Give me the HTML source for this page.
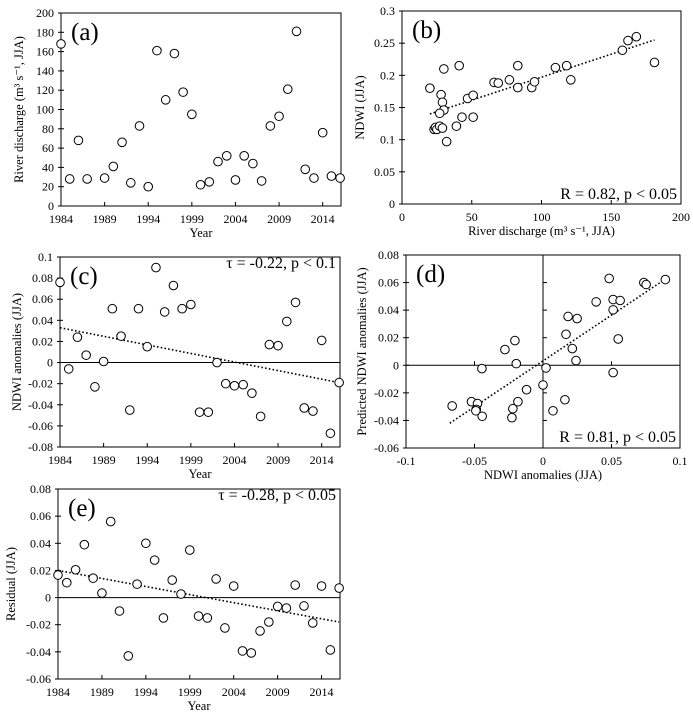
<!DOCTYPE html>
<html><head><meta charset="utf-8"><style>
html,body{margin:0;padding:0;background:#fff}
svg{display:block;font-family:"Liberation Serif","Times New Roman",serif}
</style></head><body>
<svg id="fig" width="693" height="718" viewBox="0 0 693 718" xmlns="http://www.w3.org/2000/svg"></svg>
<script>
// ---- data (a) ----
const yearsA=[1984,1985,1986,1987,1989,1990,1991,1992,1993,1994,1995,1996,1997,1998,1999,2000,2001,2002,2003,2004,2005,2006,2007,2008,2009,2010,2011,2012,2013,2014,2015,2016];
const dischargeA=[168,28,68,28,29,41,66,24,83,20,161,110,158,118,95,22,25,46,52,27,52,44,26,83,93,121,181,38,29,76,31,29];
// ---- data (b) ----
const dischargeB=[20,28,30,41,29,30,27,47,51,43,51,23,24,25,27,29,39,32,66,69,77,83,83,93,95,110,118,121,158,162,168,181];
const ndwiB=[0.18,0.17,0.21,0.215,0.158,0.146,0.141,0.164,0.169,0.135,0.135,0.116,0.119,0.116,0.121,0.118,0.121,0.097,0.189,0.188,0.193,0.215,0.181,0.181,0.19,0.212,0.215,0.193,0.239,0.254,0.26,0.22];
const trendBx=[20,181], trendBy=[0.14,0.255];
// ---- data (c) ----
const yearsC=[1984,1985,1986,1987,1988,1989,1990,1991,1992,1993,1994,1995,1996,1997,1998,1999,2000,2001,2002,2003,2004,2005,2006,2007,2008,2009,2010,2011,2012,2013,2014,2015,2016];
const anomC=[0.076,-0.006,0.024,0.007,-0.023,0.001,0.051,0.025,-0.045,0.051,0.015,0.090,0.048,0.073,0.051,0.055,-0.047,-0.047,0.000,-0.020,-0.022,-0.021,-0.029,-0.051,0.017,0.016,0.039,0.057,-0.043,-0.046,0.021,-0.067,-0.019];
const trendCx=[1984,2016], trendCy=[0.033,-0.019];
// ---- data (d) ----
const obsD=[-0.0663,-0.0522,-0.0478,-0.0487,-0.049,-0.0444,-0.0446,-0.0278,-0.0205,-0.0195,-0.0183,-0.022,-0.0227,-0.012,0,0.0022,0.0073,0.016,0.0168,0.0183,0.0214,0.0241,0.0249,0.0388,0.0483,0.0512,0.0512,0.0512,0.0563,0.0549,0.0736,0.0753,0.0893];
const predD=[-0.0295,-0.0264,-0.0278,-0.032,-0.033,-0.037,-0.0024,0.0114,0.0179,0.0012,-0.0264,-0.0315,-0.038,-0.0177,-0.0143,-0.0019,-0.033,-0.025,0.0225,0.0354,0.0121,0.0034,0.0339,0.046,0.063,0.0477,0.0402,-0.0053,0.047,0.0191,0.060,0.0586,0.0622];
const trendDx=[-0.068,0.09], trendDy=[-0.042,0.063];
// ---- data (e) ----
const yearsE=yearsC.slice();
const residE=[0.0166,0.011,0.0205,0.039,0.0143,0.0033,0.056,-0.0099,-0.043,0.0099,0.040,0.0276,-0.015,0.0129,0.0026,0.035,-0.0136,-0.015,0.0137,-0.0224,0.0085,-0.0393,-0.0408,-0.0246,-0.018,-0.0065,-0.0077,0.0092,-0.0062,-0.0187,0.0085,-0.0386,0.007];
const trendEx=[1984,2016], trendEy=[0.020,-0.018];
// ---- ticks ----
const yearTicks=[1984,1989,1994,1999,2004,2009,2014];
const ticksAy=[0,20,40,60,80,100,120,140,160,180,200];
const ticksBx=[0,50,100,150,200];
const ticksBy=[0,0.05,0.1,0.15,0.2,0.25,0.3];
const ticksCy=[-0.08,-0.06,-0.04,-0.02,0,0.02,0.04,0.06,0.08,0.1];
const ticksDx=[-0.1,-0.05,0,0.05,0.1];
const ticksDy=[-0.06,-0.04,-0.02,0,0.02,0.04,0.06,0.08];
const ticksEy=[-0.06,-0.04,-0.02,0,0.02,0.04,0.06,0.08];

const NS="http://www.w3.org/2000/svg";
const svg=document.getElementById('fig');
function mk(tag,attrs,parent){const e=document.createElementNS(NS,tag);for(const k in attrs)e.setAttribute(k,attrs[k]);(parent||svg).appendChild(e);return e;}
function fmt(v){return String(Math.round(v*1000)/1000);}

function panel(p){
  const g=mk('g',{});
  
  
  const sx=v=>p.L+(v-p.x0)/(p.x1-p.x0)*(p.R-p.L);
  const sy=v=>p.B-(v-p.y0)/(p.y1-p.y0)*(p.B-p.T);
  const frame=mk('rect',{x:p.L,y:p.T,width:p.R-p.L,height:p.B-p.T,fill:'none',stroke:'#000','stroke-width':1},g);
  
  
  p.yt.forEach(v=>{
    mk('line',{x1:p.L-3,x2:p.L+3,y1:sy(v),y2:sy(v),stroke:'#000'},g);
    const t=mk('text',{x:p.L-7,y:sy(v)+4,'font-size':12,'text-anchor':'end'},g);
    
    
    t.textContent=fmt(v);
  });
  p.xt.forEach(v=>{
    mk('line',{x1:sx(v),x2:sx(v),y1:p.B,y2:p.B-4,stroke:'#000'},g);
    const t=mk('text',{x:sx(v),y:p.B+17,'font-size':12,'text-anchor':'middle'},g);
    
    
    t.textContent=fmt(v);
  });
  if(p.zeroH){
    const l=mk('line',{x1:p.L,x2:p.R,y1:sy(0),y2:sy(0),stroke:'#000'},g);
    
    
  }
  if(p.zeroV){
    const l=mk('line',{x1:sx(0),x2:sx(0),y1:p.T,y2:p.B,stroke:'#000'},g);
    
    
    p.yt.forEach(v=>mk('line',{x1:sx(0),x2:sx(0)+4,y1:sy(v),y2:sy(v),stroke:'#000'},g));
    p.xt.forEach(v=>mk('line',{x1:sx(v),x2:sx(v),y1:sy(0),y2:sy(0)-4,stroke:'#000'},g));
  }
  if(p.tx){
    const l=mk('line',{x1:sx(p.tx[0]),y1:sy(p.ty[0]),x2:sx(p.tx[1]),y2:sy(p.ty[1]),stroke:'#000','stroke-width':1.6,'stroke-dasharray':'1.6 2.2'},g);
    
    
  }
  p.xs.forEach((x,i)=>{
    const c=mk('circle',{cx:sx(x),cy:sy(p.ys[i]),r:4.3,fill:'#fff',stroke:'#000','stroke-width':1},g);
    
    
  });
  const lab=mk('text',{x:p.L+10,y:p.T+27,'font-size':25},g);
  
  
  lab.textContent=p.label;
  if(p.stat){
    const s=mk('text',{x:p.R-4,y:p.stat[1],'font-size':16,'text-anchor':'end'},g);
    
    
    s.textContent=p.stat[0];
  }
  const xtl=mk('text',{x:(p.L+p.R)/2,y:p.B+31,'font-size':12.5,'text-anchor':'middle'},g);
  
  
  xtl.textContent=p.xtitle;
  const ytl=mk('text',{x:0,y:0,'font-size':12.5,'text-anchor':'middle',transform:`translate(${p.ytx},${(p.T+p.B)/2}) rotate(-90)`},g);
  
  
  ytl.textContent=p.ytitle;
}

panel({name:'panel-a-discharge-timeseries',L:61,R:341,T:13,B:206,x0:1984,x1:2016.1,y0:0,y1:200,xt:yearTicks,yt:ticksAy,xs:yearsA,ys:dischargeA,label:'(a)',xtitle:'Year',ytitle:'River discharge (m³ s⁻¹, JJA)',ytx:23});
panel({name:'panel-b-ndwi-vs-discharge',L:402,R:681,T:11,B:204,x0:0,x1:200,y0:0,y1:0.3,xt:ticksBx,yt:ticksBy,xs:dischargeB,ys:ndwiB,tx:trendBx,ty:trendBy,label:'(b)',stat:['R = 0.82, p < 0.05',199],xtitle:'River discharge (m³  s⁻¹, JJA)',ytitle:'NDWI (JJA)',ytx:364});
panel({name:'panel-c-ndwi-anomalies',L:60,R:340,T:257,B:447,x0:1984,x1:2016.1,y0:-0.08,y1:0.1,xt:yearTicks,yt:ticksCy,xs:yearsC,ys:anomC,tx:trendCx,ty:trendCy,zeroH:true,label:'(c)',stat:['τ = -0.22, p < 0.1',268],xtitle:'Year',ytitle:'NDWI  anomalies (JJA)',ytx:21});
panel({name:'panel-d-predicted-vs-observed',L:406,R:680,T:255,B:448,x0:-0.1,x1:0.1,y0:-0.06,y1:0.08,xt:ticksDx,yt:ticksDy,xs:obsD,ys:predD,tx:trendDx,ty:trendDy,zeroH:true,zeroV:true,label:'(d)',stat:['R = 0.81, p < 0.05',442],xtitle:'NDWI anomalies (JJA)',ytitle:'Predicted NDWI  anomalies (JJA)',ytx:366});
panel({name:'panel-e-residual',L:58,R:340,T:489,B:679,x0:1984,x1:2016.1,y0:-0.06,y1:0.08,xt:yearTicks,yt:ticksEy,xs:yearsE,ys:residE,tx:trendEx,ty:trendEy,zeroH:true,label:'(e)',stat:['τ = -0.28, p < 0.05',500],xtitle:'Year',ytitle:'Residual (JJA)',ytx:15});
</script>
</body></html>
